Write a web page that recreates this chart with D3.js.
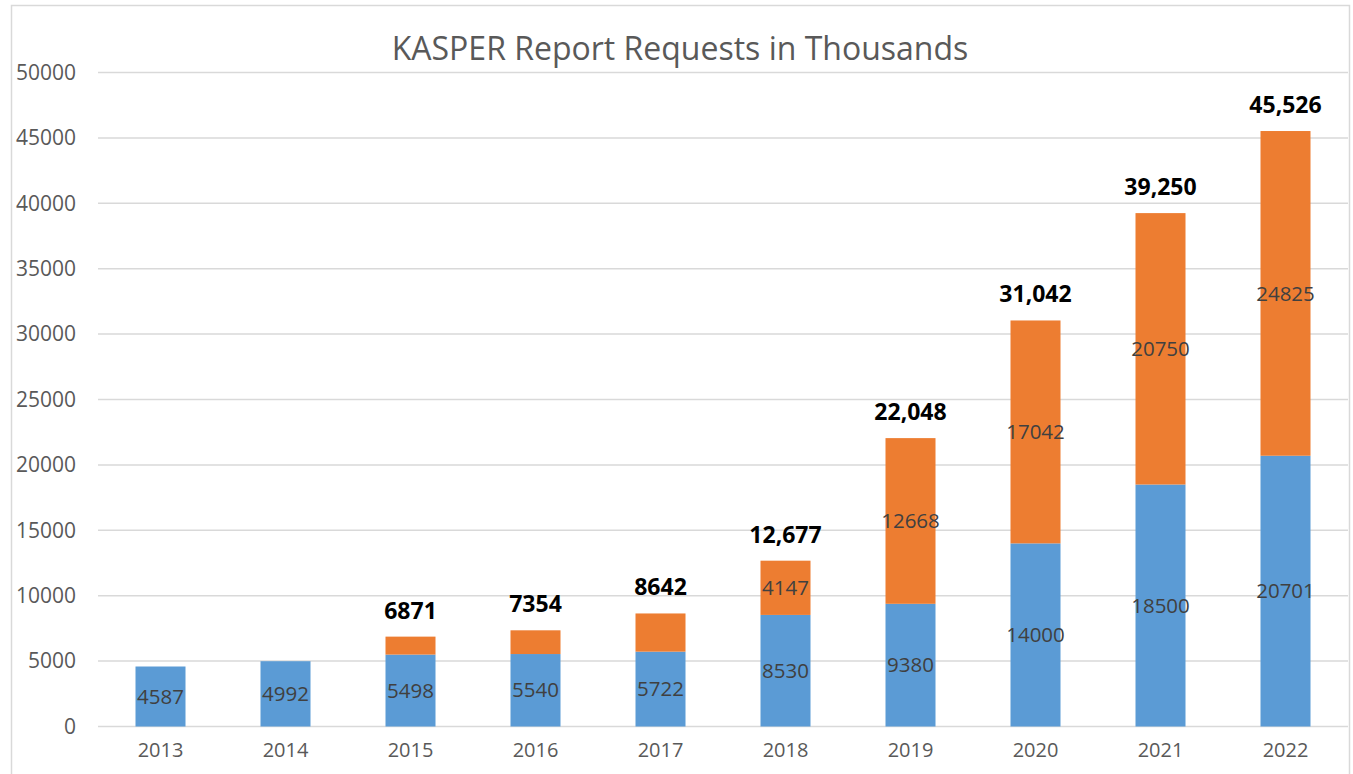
<!DOCTYPE html>
<html>
<head>
<meta charset="utf-8">
<script src="https://cdn.jsdelivr.net/npm/d3@7"></script>
<style>
  body { margin: 0; background: #fff; }
  svg { display: block; font-family: "Open Sans", sans-serif; }
</style>
</head>
<body>
<div id="chart"></div>
<script>
// data
var years = ["2013","2014","2015","2016","2017","2018","2019","2020","2021","2022"];
var blueValues = [4587, 4992, 5498, 5540, 5722, 8530, 9380, 14000, 18500, 20701];
var orangeValues = [0, 0, 1373, 1814, 2920, 4147, 12668, 17042, 20750, 24825];
var orangeLabels = ["", "", "", "", "", "4147", "12668", "17042", "20750", "24825"];
var totalLabels = ["", "", "6871", "7354", "8642", "12,677", "22,048", "31,042", "39,250", "45,526"];
var yTicks = [0, 5000, 10000, 15000, 20000, 25000, 30000, 35000, 40000, 45000, 50000];

var W = 1353, H = 774;
var plotLeft = 98, plotRight = 1348, plotTop = 72.5, plotBottom = 726.5;

var svg = d3.select("#chart").append("svg")
    .attr("width", W)
    .attr("height", H);

// chart border
svg.append("rect")
    .attr("x", 11.5).attr("y", 5.5)
    .attr("width", 1338).attr("height", 800)
    .attr("fill", "none")
    .attr("stroke", "#d9d9d9")
    .attr("stroke-width", 1.5);

svg.append("text")
    .attr("x", 680).attr("y", 60)
    .attr("text-anchor", "middle")
    .attr("fill", "#595959")
    .style("font-size", "32px")
    .text("KASPER Report Requests in Thousands");

var x = d3.scaleBand()
    .domain(years)
    .range([plotLeft, plotRight])
    .paddingInner(0.6)
    .paddingOuter(0.3);

var y = d3.scaleLinear()
    .domain([0, 50000])
    .range([plotBottom, plotTop]);

// gridlines
svg.append("g")
    .selectAll("line")
    .data(yTicks)
    .enter().append("line")
    .attr("x1", plotLeft).attr("x2", plotRight)
    .attr("y1", function(d){ return y(d); })
    .attr("y2", function(d){ return y(d); })
    .attr("stroke", "#d9d9d9")
    .attr("stroke-width", 1.5);

// y axis labels
var yAxis = d3.axisLeft(y).tickValues(yTicks).tickSize(0).tickPadding(0)
    .tickFormat(function(d){ return d; });
var gy = svg.append("g")
    .attr("transform", "translate(76,0)")
    .call(yAxis);
gy.select(".domain").remove();
gy.selectAll("text")
    .attr("fill", "#595959")
    .style("font-size", "21px")
    .style("font-family", "Open Sans, sans-serif");

// x axis labels
var xAxis = d3.axisBottom(x).tickSize(0).tickPadding(0);
var gx = svg.append("g")
    .attr("transform", "translate(0,743)")
    .call(xAxis);
gx.select(".domain").remove();
gx.selectAll("text")
    .attr("fill", "#595959")
    .style("font-size", "20px")
    .style("font-family", "Open Sans, sans-serif");

// bars
var bars = svg.append("g");
bars.selectAll(".blue")
    .data(years)
    .enter().append("rect")
    .attr("class", "blue")
    .attr("x", function(d){ return x(d); })
    .attr("width", x.bandwidth())
    .attr("y", function(d, i){ return y(blueValues[i]); })
    .attr("height", function(d, i){ return y(0) - y(blueValues[i]); })
    .attr("fill", "#5b9bd5");

bars.selectAll(".orange")
    .data(years)
    .enter().append("rect")
    .attr("class", "orange")
    .attr("x", function(d){ return x(d); })
    .attr("width", x.bandwidth())
    .attr("y", function(d, i){ return y(blueValues[i] + orangeValues[i]); })
    .attr("height", function(d, i){ return y(blueValues[i]) - y(blueValues[i] + orangeValues[i]); })
    .attr("fill", "#ed7d31");

// segment labels
var labels = svg.append("g")
    .attr("text-anchor", "middle")
    .attr("fill", "#404040")
    .style("font-size", "20.5px");

labels.selectAll(".bl")
    .data(years)
    .enter().append("text")
    .attr("class", "bl")
    .attr("x", function(d){ return x(d) + x.bandwidth() / 2; })
    .attr("y", function(d, i){ return y(blueValues[i] / 2); })
    .attr("dy", "0.35em")
    .text(function(d, i){ return blueValues[i]; });

labels.selectAll(".ol")
    .data(years)
    .enter().append("text")
    .attr("class", "ol")
    .attr("x", function(d){ return x(d) + x.bandwidth() / 2; })
    .attr("y", function(d, i){ return y(blueValues[i] + orangeValues[i] / 2); })
    .attr("dy", "0.35em")
    .text(function(d, i){ return orangeLabels[i]; });

// totals
svg.append("g")
    .selectAll("text")
    .data(years)
    .enter().append("text")
    .attr("x", function(d){ return x(d) + x.bandwidth() / 2; })
    .attr("y", function(d, i){ return y(blueValues[i] + orangeValues[i]) - 18; })
    .attr("text-anchor", "middle")
    .attr("fill", "#000")
    .style("font-size", "23px")
    .style("font-weight", "bold")
    .text(function(d, i){ return totalLabels[i]; });
</script>
</body>
</html>
